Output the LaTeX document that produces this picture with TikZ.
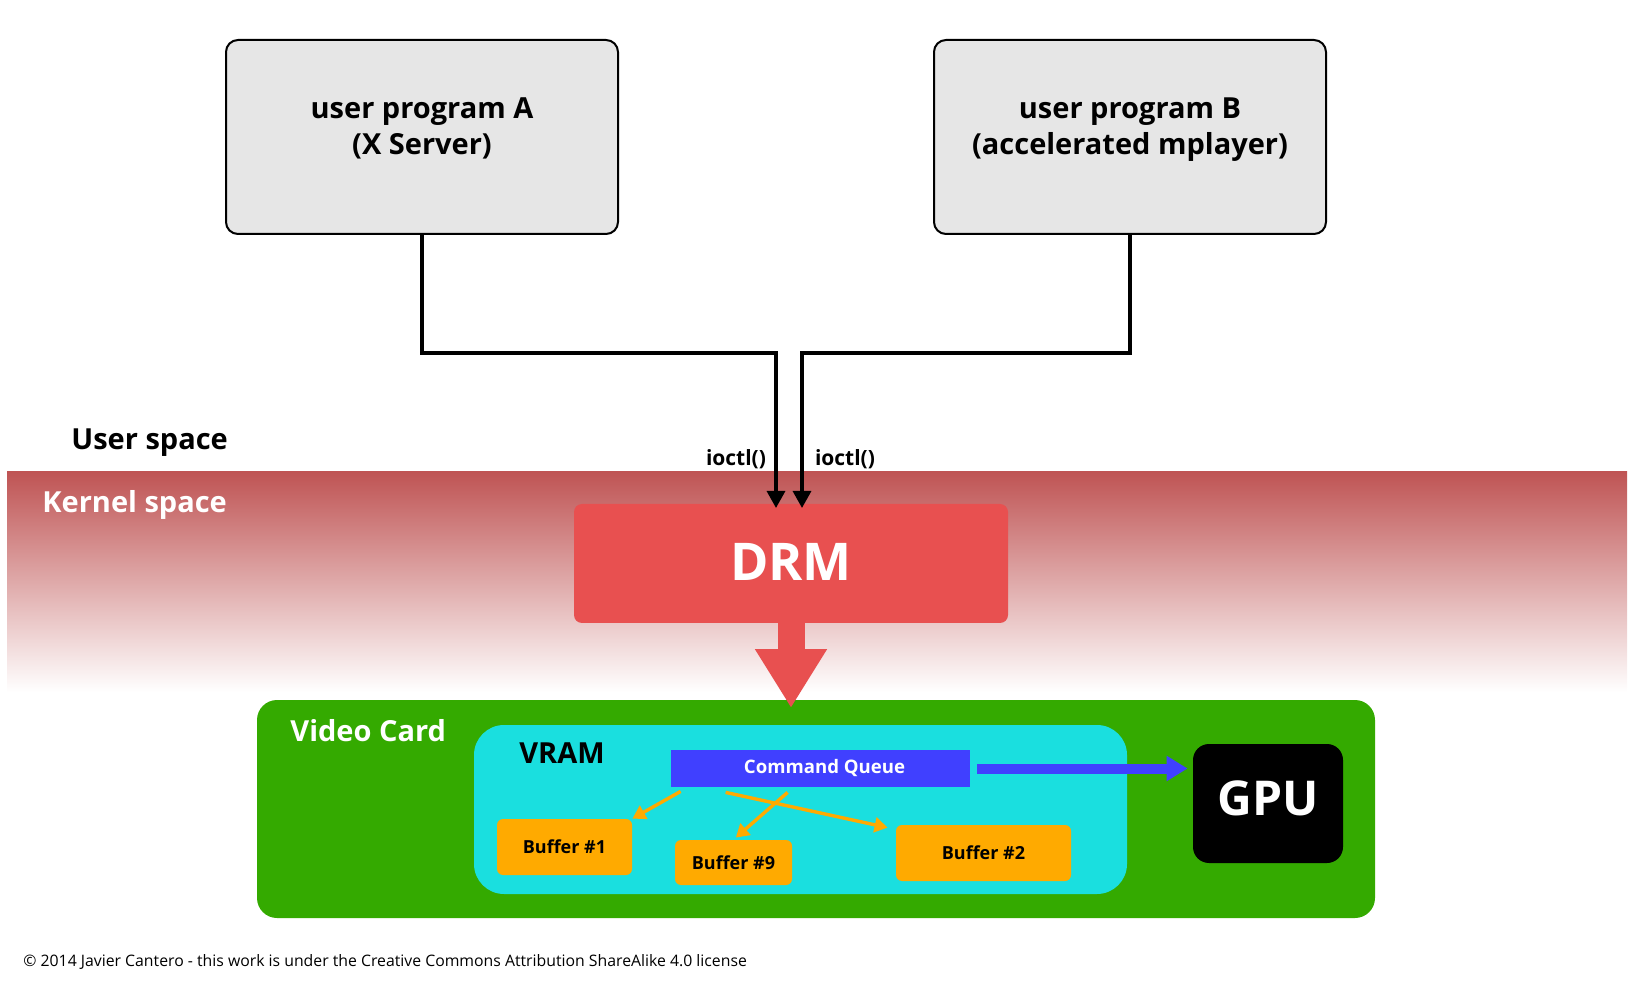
\documentclass[tikz,border=0pt]{standalone}
\usepackage{fontspec}
\setmainfont{Open Sans}
\usetikzlibrary{arrows.meta}
\usetikzlibrary{positioning}

\definecolor{boxgray}{HTML}{E6E6E6}
\definecolor{kernelred}{HTML}{BF5454}
\definecolor{drmred}{HTML}{E85050}
\definecolor{cardgreen}{HTML}{34AA00}
\definecolor{vramcyan}{HTML}{1ADFDF}
\definecolor{queueblue}{HTML}{4040FF}
\definecolor{bufferorange}{HTML}{FFAA00}

\begin{document}
\begin{tikzpicture}[x=0.5pt,y=-0.5pt,
              progbox/.style={draw,line width=1pt,fill=boxgray,rounded corners=6pt,
                minimum width=196pt,minimum height=97pt},
              boxtext/.style={align=center,font=\fontsize{14.5}{18}\selectfont\bfseries},
              spacetext/.style={anchor=west,inner sep=0pt,font=\fontsize{14.5}{17.5}\selectfont\bfseries},
              calllabel/.style={font=\fontsize{10.5}{12}\selectfont\bfseries},
              callline/.style={line width=1.6pt,-{Triangle[length=8.5pt,width=9pt]}},
              bufbox/.style={fill=bufferorange,rounded corners=3pt,
                font=\fontsize{9}{11}\selectfont\bfseries},
              bufarrow/.style={draw=bufferorange,line width=1.7pt,
                -{Triangle[length=6.5pt,width=7.5pt]}}]
  \useasboundingbox (0,0) rectangle (1633,983);
  \shade[top color=kernelred,bottom color=white] (7,472) rectangle (1627,692);
  \node[progbox] (progA) at (422,137) {};
  \node[progbox] (progB) at (1130,137) {};
  \node[boxtext] (progAtext) at (422,128) {user program A\\(X Server)};
  \node[boxtext] (progBtext) at (1130,130) {user program B\\(accelerated mplayer)};
  \node[spacetext] (userspace) at (71,443) {User space};
  \node[spacetext,white] (kernelspace) at (42,505) {Kernel space};
  \node[fill=drmred,rounded corners=4pt,minimum width=217pt,minimum height=59.5pt,
    text=white,font=\fontsize{26}{30}\selectfont\bfseries] (drm) at (791,563.5) {\raisebox{1.5pt}{DRM}};
  \coordinate (bendA) at (776,353);
  \coordinate (bendB) at (802,353);
  \coordinate (inA) at (776,508);
  \coordinate (inB) at (802,508);
  \draw[callline] (progA.south) |- (bendA) -- (inA);
  \draw[callline] (progB.south) |- (bendB) -- (inB);
  \node[calllabel] (callA) at (736,459) {ioctl()};
  \node[calllabel] (callB) at (845,459) {ioctl()};
  \node[fill=cardgreen,rounded corners=10pt,minimum width=559pt,minimum height=109pt] (card) at (816,809) {};
  \node[spacetext,white] (cardtext) at (290,731) {Video Card};
  \coordinate (drmtip) at (791,708);
  \draw[drmred,line width=13.5pt,-{Triangle[length=29.5pt,width=34pt]}] (drm.south) -- (drmtip);
  \node[fill=vramcyan,rounded corners=15pt,minimum width=326.5pt,minimum height=84.5pt] (vram) at (800.5,809.5) {};
  \node[spacetext,anchor=center] (vramtext) at (562,753) {VRAM};
  \node[fill=queueblue,minimum width=149.5pt,minimum height=18.5pt,text=white,
    font=\fontsize{9.3}{11}\selectfont\bfseries] (queue) at (820.5,768.5) {\hspace{4pt}\raisebox{-1pt}{Command Queue}};
  \node[fill=black,rounded corners=8pt,minimum width=75pt,minimum height=59.5pt,text=white,
    font=\fontsize{24}{28}\selectfont\bfseries] (gpu) at (1268,803.5) {GPU\rule[-5pt]{0pt}{5pt}};
  \draw[queueblue,line width=5pt,-{Triangle[length=10.5pt,width=12pt]},
    shorten <=3.5pt,shorten >=2.5pt] (queue.east) -- (queue.east -| gpu.west);
  \node[bufbox,minimum width=67.5pt,minimum height=28pt] (buf1) at (564.5,847) {Buffer \#1};
  \node[bufbox,minimum width=58.5pt,minimum height=22.5pt] (buf9) at (733.5,862.5) {Buffer \#9};
  \node[bufbox,minimum width=87.5pt,minimum height=28pt] (buf2) at (983.5,853) {Buffer \#2};
  \coordinate (q1) at ([shift={(10,4)}]queue.south west);
  \coordinate (q9) at ([shift={(117,5)}]queue.south west);
  \coordinate (q2) at ([shift={(55,5)}]queue.south west);
  \draw[bufarrow] (q1) -- (buf1.north east);
  \draw[bufarrow,shorten >=1.5pt] (q9) -- (buf9.north);
  \draw[bufarrow] (q2) -- ([shift={(-8,3)}]buf2.north west);
  \node[anchor=west,inner sep=0pt,font=\fontsize{7.9}{9}\selectfont] (credit) at (23,962)
    {© 2014 Javier Cantero - this work is under the Creative Commons Attribution ShareAlike 4.0 license};
\end{tikzpicture}
\end{document}
